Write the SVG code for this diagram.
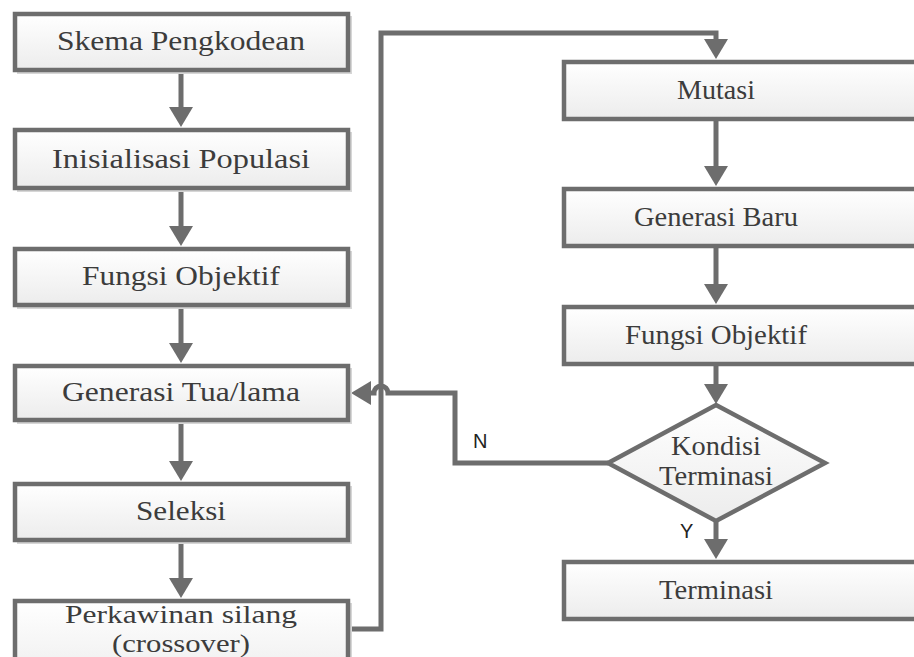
<svg xmlns="http://www.w3.org/2000/svg" width="914" height="657" viewBox="0 0 914 657">
<defs>
<linearGradient id="boxfill" x1="0" y1="0" x2="0" y2="1">
<stop offset="0" stop-color="#ffffff"/>
<stop offset="1" stop-color="#ececec"/>
</linearGradient>
<marker id="arr" markerUnits="userSpaceOnUse" markerWidth="20" markerHeight="24" viewBox="0 0 20 24" refX="1" refY="12" orient="auto">
<path d="M0,0 L20,12 L0,24 z" fill="#6d6d6d"/>
</marker>
<style>
.box{fill:url(#boxfill);stroke:#6d6d6d;stroke-width:4.5}
.shadow{fill:#d6d6d6}
.t{font-family:'Liberation Serif','Times New Roman',Times,serif;font-size:27px;fill:#3c3c3c;text-anchor:middle}
.s{font-size:25px}
.lbl{font-family:'Liberation Sans',Arial,sans-serif;font-size:20px;fill:#222}
.ca{fill:none;stroke:#6d6d6d;stroke-width:5;marker-end:url(#arr)}
</style>
</defs>
<rect width="914" height="657" fill="#ffffff"/>

<g id="connectors">
<path class="ca" d="M181,72 V108"/>
<path class="ca" d="M181,191 V227"/>
<path class="ca" d="M181,307 V344"/>
<path class="ca" d="M181,422 V462"/>
<path class="ca" d="M181,542 V579"/>
<path class="ca" d="M716,121 V167"/>
<path class="ca" d="M716,248 V285"/>
<path class="ca" d="M716,366 V385"/>
<path class="ca" d="M716,521 V540"/>
<path class="ca" d="M349,629 H381 V33 H716 V40"/>
<path class="ca" d="M608,463 H455 V393 H388 A7,7 0 0 0 374,393 H370"/>
</g>

<g id="skema">
<rect class="shadow" x="17" y="16" width="335" height="58"/>
<rect class="box" x="15" y="14" width="333" height="56"/>
<text class="t" x="181" y="50" textLength="248" lengthAdjust="spacingAndGlyphs">Skema Pengkodean</text>
</g>
<g id="inisialisasi">
<rect class="shadow" x="17" y="132" width="335" height="60"/>
<rect class="box" x="15" y="130" width="333" height="58"/>
<text class="t" x="181" y="168" textLength="258" lengthAdjust="spacingAndGlyphs">Inisialisasi Populasi</text>
</g>
<g id="fungsi1">
<rect class="shadow" x="17" y="251" width="335" height="58"/>
<rect class="box" x="15" y="249" width="333" height="56"/>
<text class="t" x="181" y="285" textLength="198" lengthAdjust="spacingAndGlyphs">Fungsi Objektif</text>
</g>
<g id="generasi-tua">
<rect class="shadow" x="17" y="368" width="335" height="56"/>
<rect class="box" x="15" y="366" width="333" height="54"/>
<text class="t" x="181" y="401" textLength="238" lengthAdjust="spacingAndGlyphs">Generasi Tua/lama</text>
</g>
<g id="seleksi">
<rect class="shadow" x="17" y="486" width="335" height="58"/>
<rect class="box" x="15" y="484" width="333" height="56"/>
<text class="t" x="181" y="520" textLength="90" lengthAdjust="spacingAndGlyphs">Seleksi</text>
</g>
<g id="perkawinan">
<rect class="shadow" x="17" y="603" width="335" height="90"/>
<rect class="box" x="15" y="601" width="333" height="88"/>
<text class="t s" x="181" y="623" textLength="232" lengthAdjust="spacingAndGlyphs">Perkawinan silang</text>
<text class="t s" x="181" y="652" textLength="138" lengthAdjust="spacingAndGlyphs">(crossover)</text>
</g>

<g id="mutasi">
<rect class="box" x="564" y="62" width="370" height="57"/>
<text class="t" x="716" y="99" textLength="78" lengthAdjust="spacingAndGlyphs">Mutasi</text>
</g>
<g id="generasi-baru">
<rect class="box" x="564" y="189" width="370" height="57"/>
<text class="t" x="716" y="226" textLength="164" lengthAdjust="spacingAndGlyphs">Generasi Baru</text>
</g>
<g id="fungsi2">
<rect class="box" x="564" y="307" width="370" height="57"/>
<text class="t" x="716" y="344" textLength="182" lengthAdjust="spacingAndGlyphs">Fungsi Objektif</text>
</g>
<g id="kondisi">
<polygon class="box" points="716,405 825,463 716,521 608,463"/>
<text class="t" x="716" y="455" textLength="90" lengthAdjust="spacingAndGlyphs">Kondisi</text>
<text class="t" x="716" y="485" textLength="114" lengthAdjust="spacingAndGlyphs">Terminasi</text>
</g>
<g id="terminasi">
<rect class="box" x="564" y="562" width="370" height="57"/>
<text class="t" x="716" y="599" textLength="114" lengthAdjust="spacingAndGlyphs">Terminasi</text>
</g>

<text class="lbl" x="473" y="448">N</text>
<text class="lbl" x="680" y="538">Y</text>
</svg>
